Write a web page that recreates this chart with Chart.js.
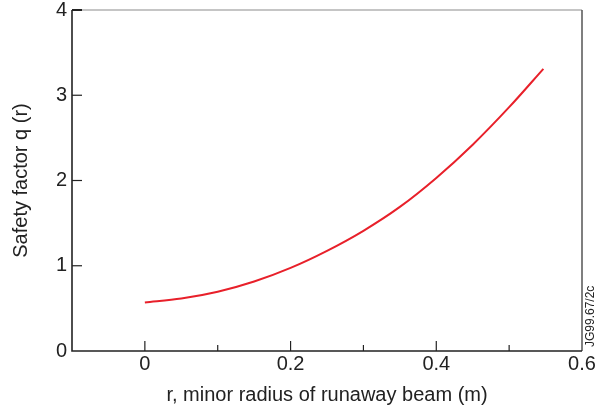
<!DOCTYPE html>
<html>
<head>
<meta charset="utf-8">
<script src="https://cdn.jsdelivr.net/npm/chart.js@4/dist/chart.umd.min.js"></script>
<style>
  html, body { margin:0; padding:0; background:#fff; }
  #wrap { width:607px; height:410px; }
</style>
</head>
<body>
<div id="wrap"><canvas id="c"></canvas></div>
<script>
// radius of runaway beam (m) and safety factor
const rVals = [0, 0.05, 0.1, 0.15, 0.2, 0.25, 0.3, 0.35, 0.4, 0.45, 0.5, 0.547];
const qVals = [0.57, 0.615, 0.695, 0.815, 0.975, 1.175, 1.41, 1.69, 2.03, 2.42, 2.86, 3.31];
const xTickLabels = ['0', '0.2', '0.4', '0.6'];
const yTickLabels = ['0', '1', '2', '3', '4'];

const FONT = '"Liberation Sans", Arial, sans-serif';
const INK = '#222';

// inward ticks, frame and the figure code on the right
const framePlugin = {
  id: 'frame',
  afterDraw(chart){
    const {ctx, chartArea:a, scales:{x, y}} = chart;
    ctx.save();
    // top + right border (lighter)
    ctx.strokeStyle = '#8c8c8c'; ctx.lineWidth = 1.2;
    ctx.beginPath(); ctx.moveTo(a.left, a.top); ctx.lineTo(a.right, a.top); ctx.stroke();
    ctx.strokeStyle = '#555'; ctx.lineWidth = 1.5;
    ctx.beginPath(); ctx.moveTo(a.right, a.top); ctx.lineTo(a.right, a.bottom); ctx.stroke();
    // left + bottom axis
    ctx.strokeStyle = INK; ctx.lineWidth = 1.6;
    ctx.beginPath(); ctx.moveTo(a.left, a.top); ctx.lineTo(a.left, a.bottom); ctx.lineTo(a.right, a.bottom); ctx.stroke();
    // x ticks pointing up
    ctx.lineWidth = 1.2;
    x.ticks.forEach(t => {
      const v = Math.round(t.value * 10) / 10;
      if (v < 0 || v >= 0.6) return;
      const px = x.getPixelForValue(v);
      const len = Math.round(v * 10) % 2 === 0 ? 10 : 6;
      ctx.beginPath(); ctx.moveTo(px, a.bottom); ctx.lineTo(px, a.bottom - len); ctx.stroke();
    });
    // y ticks pointing right
    y.ticks.forEach(t => {
      if (t.value <= 0) return;
      const py = y.getPixelForValue(t.value);
      ctx.lineWidth = t.value === 4 ? 2 : 1.2;
      ctx.beginPath(); ctx.moveTo(a.left, py); ctx.lineTo(a.left + 10, py); ctx.stroke();
    });
    // figure reference
    ctx.fillStyle = INK;
    ctx.font = '12px ' + FONT;
    ctx.translate(a.right + 9, a.bottom - 4);
    ctx.rotate(-Math.PI / 2);
    ctx.textAlign = 'left'; ctx.textBaseline = 'middle';
    ctx.fillText('JG99.67/2c', 0, 0);
    ctx.restore();
  }
};

new Chart(document.getElementById('c'), {
  type: 'line',
  data: {
    datasets: [{
      data: rVals.map((r, i) => ({x: r, y: qVals[i]})),
      borderColor: '#e8202a', borderWidth: 2, pointRadius: 0,
      cubicInterpolationMode: 'monotone', fill: false
    }]
  },
  options: {
    responsive: true, maintainAspectRatio: false, animation: false,
    layout: {padding: {top: 9, right: 25, left: 0, bottom: 0}},
    plugins: {legend: {display: false}, tooltip: {enabled: false}},
    scales: {
      x: {
        type: 'linear', min: -0.1, max: 0.6,
        afterFit: s => { s.height = 59; },
        grid: {display: false, drawTicks: false}, border: {display: false},
        ticks: {
          stepSize: 0.1, padding: 3, color: INK, maxRotation: 0, autoSkip: false,
          font: {family: FONT, size: 20, lineHeight: 1},
          callback: v => {
            const r = Math.round(v * 10);
            return (r >= 0 && r % 2 === 0) ? xTickLabels[r / 2] : '';
          }
        },
        title: {display: true, text: 'r, minor radius of runaway beam (m)', color: INK,
                font: {family: FONT, size: 20}, padding: {top: 0, bottom: 3}}
      },
      y: {
        min: 0, max: 4,
        afterFit: s => { s.width = 72; },
        grid: {display: false, drawTicks: false}, border: {display: false},
        ticks: {
          stepSize: 1, padding: 5, color: INK,
          font: {family: FONT, size: 20, lineHeight: 0.5},
          callback: v => yTickLabels[v]
        },
        title: {display: true, text: 'Safety factor q (r)', color: INK,
                font: {family: FONT, size: 20}, padding: {top: 9, bottom: 0}}
      }
    }
  },
  plugins: [framePlugin]
});
</script>
</body>
</html>
